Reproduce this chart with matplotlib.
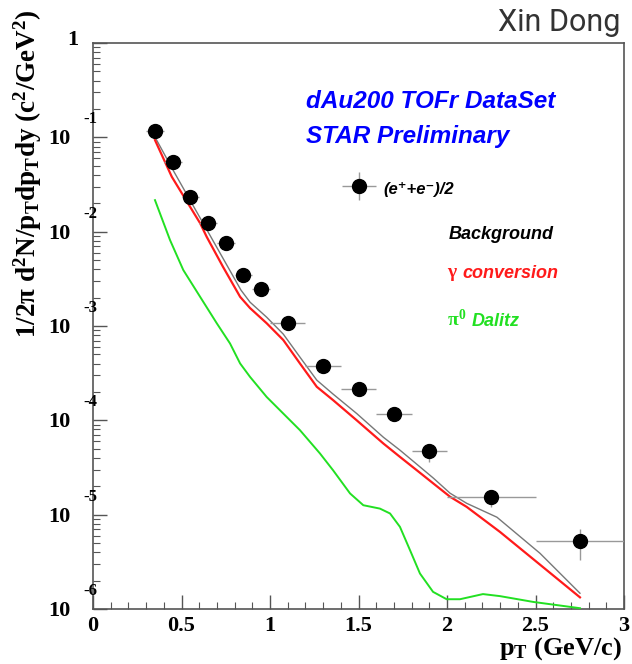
import numpy as np
import matplotlib
matplotlib.use('Agg')
import matplotlib.pyplot as plt
from matplotlib.ticker import LogLocator, MultipleLocator, NullFormatter

# data points (e+ + e-)/2
pt = [0.35, 0.45, 0.55, 0.65, 0.75, 0.85, 0.95, 1.1, 1.3, 1.5, 1.7, 1.9, 2.25, 2.75]
yields = [1.17e-1, 5.47e-2, 2.33e-2, 1.23e-2, 7.57e-3, 3.47e-3, 2.46e-3,
          1.07e-3, 3.76e-4, 2.14e-4, 1.16e-4, 4.71e-5, 1.53e-5, 5.24e-6]
pt_err = [0.05, 0.05, 0.05, 0.05, 0.05, 0.05, 0.05, 0.1, 0.1, 0.1, 0.1, 0.1, 0.25, 0.25]
y_err_lo = [3e-3, 1.5e-3, 6e-4, 3e-4, 2e-4, 1e-4, 8e-5, 4e-5, 1.5e-5, 1e-5, 8e-6, 1.08e-5, 3.3e-6, 1.94e-6]
y_err_hi = [3e-3, 1.5e-3, 6e-4, 3e-4, 2e-4, 1e-4, 8e-5, 4e-5, 1.5e-5, 1e-5, 8e-6, 0.75e-5, 2.9e-6, 1.76e-6]

# background (total)
bkg_pt = [0.35, 0.452, 0.548, 0.644, 0.740, 0.836, 0.887, 0.981, 1.075, 1.169, 1.264,
          1.356, 1.490, 1.640, 1.734, 1.829, 1.923, 2.017, 2.111, 2.282, 2.525, 2.751]
bkg_y = [1.007e-1, 4.5e-2, 2.16e-2, 1.04e-2, 5.0e-3, 2.4e-3, 1.79e-3, 1.24e-3, 8.2e-4,
         4.68e-4, 2.67e-4, 1.9e-4, 1.18e-4, 6.63e-5, 4.83e-5, 3.43e-5, 2.44e-5, 1.69e-5,
         1.32e-5, 9.4e-6, 3.9e-6, 1.47e-6]

# gamma conversion
gam_pt = [0.35, 0.445, 0.548, 0.605, 0.642, 0.734, 0.831, 0.887, 0.981, 1.075, 1.169,
          1.264, 1.356, 1.490, 1.640, 1.734, 1.829, 1.923, 2.017, 2.111, 2.299, 2.751]
gam_y = [9.36e-2, 3.82e-2, 1.84e-2, 1.23e-2, 8.83e-3, 4.25e-3, 2.04e-3, 1.55e-3, 1.07e-3,
         7.1e-4, 4.01e-4, 2.27e-4, 1.64e-4, 1.0e-4, 5.69e-5, 4.1e-5, 2.96e-5, 2.14e-5,
         1.55e-5, 1.21e-5, 6.57e-6, 1.33e-6]

# pi0 Dalitz
pi0_pt = [0.35, 0.435, 0.510, 0.605, 0.699, 0.774, 0.831, 0.887, 0.981, 1.075, 1.169,
          1.282, 1.356, 1.452, 1.527, 1.621, 1.678, 1.734, 1.791, 1.847, 1.921, 1.998,
          2.073, 2.203, 2.299, 2.486, 2.751]
pi0_y = [2.16e-2, 8.15e-3, 3.92e-3, 2.04e-3, 1.07e-3, 6.53e-4, 4.01e-4, 2.89e-4, 1.77e-4,
         1.18e-4, 7.87e-5, 4.46e-5, 2.96e-5, 1.68e-5, 1.26e-5, 1.16e-5, 1.03e-5, 7.43e-6,
         4.2e-6, 2.38e-6, 1.52e-6, 1.27e-6, 1.27e-6, 1.44e-6, 1.37e-6, 1.19e-6, 1.02e-6]

y_decades = [1e-1, 1e-2, 1e-3, 1e-4, 1e-5, 1e-6]
y_exp_labels = ['-1', '-2', '-3', '-4', '-5', '-6']
x_tick_vals = [0, 0.5, 1, 1.5, 2, 2.5, 3]
x_tick_labels = ['0', '0.5', '1', '1.5', '2', '2.5', '3']

plt.rcParams['mathtext.fontset'] = 'custom'
plt.rcParams['mathtext.rm'] = 'Liberation Serif:bold'
plt.rcParams['mathtext.it'] = 'Liberation Serif:bold'
plt.rcParams['mathtext.bf'] = 'Liberation Serif:bold'

fig = plt.figure(figsize=(6.32, 6.64), dpi=100)
ax = fig.add_axes([0.1472, 0.0828, 0.8402, 0.8524])

ax.plot(bkg_pt, bkg_y, color='#777777', lw=1.0, zorder=2)
ax.plot(gam_pt, gam_y, color='#ff1a1a', lw=1.6, zorder=3)
ax.plot(pi0_pt, pi0_y, color='#22e022', lw=1.4, zorder=3)
ax.errorbar(pt, yields, xerr=pt_err, yerr=[y_err_lo, y_err_hi], fmt='o', color='black',
            ms=10, ecolor='#999999', elinewidth=1.0, capsize=0, zorder=4)

ax.set_yscale('log')
ax.set_xlim(0, 3)
ax.set_ylim(1e-6, 1)

ax.xaxis.set_minor_locator(MultipleLocator(0.1))
ax.yaxis.set_major_locator(LogLocator(base=10, numticks=10))
ax.yaxis.set_minor_locator(LogLocator(base=10, subs=np.arange(2, 10), numticks=20))
ax.yaxis.set_major_formatter(NullFormatter())
ax.yaxis.set_minor_formatter(NullFormatter())
ax.tick_params(which='both', direction='in', top=False, right=False, color='#555555')
ax.tick_params(which='major', length=10, width=1.0)
ax.tick_params(which='minor', length=5, width=0.8)
ax.tick_params(axis='x', pad=5)
for s in ax.spines.values():
    s.set_color('#555555')
    s.set_linewidth(1.2)

ax.set_xticks(x_tick_vals)
ax.set_xticklabels(x_tick_labels, fontfamily='Liberation Serif', fontweight='bold', fontsize=16)

# ROOT-style y labels
ytr = ax.get_yaxis_transform()
ax.annotate('1', xy=(0, 1), xycoords=ytr, xytext=(-15, 3), textcoords='offset pixels',
            ha='right', va='center', fontfamily='Liberation Serif', fontweight='bold', fontsize=16)
for v, e in zip(y_decades, y_exp_labels):
    ax.annotate('10', xy=(0, v), xycoords=ytr, xytext=(-23, -2), textcoords='offset pixels',
                ha='right', va='center', fontfamily='Liberation Serif', fontweight='bold', fontsize=16)
    ax.annotate(e, xy=(0, v), xycoords=ytr, xytext=(4, 18), textcoords='offset pixels',
                ha='right', va='center', fontfamily='Liberation Serif', fontweight='bold', fontsize=12)

fig.text(0.018, 0.738, r'1/2$\pi$ d$^{2}$N/p$_{T}$dp$_{T}$dy (c$^{2}$/GeV$^{2}$)',
         rotation=90, ha='left', va='center', fontsize=19.5,
         fontfamily='Liberation Serif', fontweight='bold')
fig.text(0.985, 0.014, r'p$_{T}$ (GeV/c)', ha='right', va='baseline', fontsize=19,
         fontfamily='Liberation Serif', fontweight='bold')

fig.text(0.982, 0.953, 'Xin Dong', ha='right', va='baseline', fontsize=22,
         fontfamily='Roboto', color='#333333')

sans = dict(fontfamily=['Liberation Sans', 'DejaVu Sans'], fontweight='bold', fontstyle='italic')
ax.text(0.401, 0.896, 'dAu200 TOFr DataSet', transform=ax.transAxes, ha='left', va='center',
        color='#0000ff', fontsize=17.5, **sans)
ax.text(0.401, 0.834, 'STAR Preliminary', transform=ax.transAxes, ha='left', va='center',
        color='#0000ff', fontsize=17.5, **sans)

# legend
ax.errorbar([0.501], [0.747], xerr=[0.032], yerr=[0.025], fmt='o', color='black', ms=10,
            ecolor='#999999', elinewidth=1.0, capsize=0, transform=ax.transAxes, zorder=5)
ax.text(0.546, 0.742, '(e\u207a+e\u207b)/2', transform=ax.transAxes, ha='left', va='center',
        color='black', fontsize=12, **sans)
ax.text(0.670, 0.6625, 'Background', transform=ax.transAxes, ha='left', va='center',
        color='black', fontsize=13, **sans)
ax.text(0.667, 0.592, r'$\gamma$', transform=ax.transAxes, ha='left', va='center',
        color='#ff1a1a', fontsize=14)
ax.text(0.695, 0.592, 'conversion', transform=ax.transAxes, ha='left', va='center',
        color='#ff1a1a', fontsize=13, **sans)
ax.text(0.667, 0.511, r'$\pi^{0}$', transform=ax.transAxes, ha='left', va='center',
        color='#22e022', fontsize=14)
ax.text(0.714, 0.508, 'Dalitz', transform=ax.transAxes, ha='left', va='center',
        color='#22e022', fontsize=13, **sans)

fig.savefig('out.png', dpi=100)
